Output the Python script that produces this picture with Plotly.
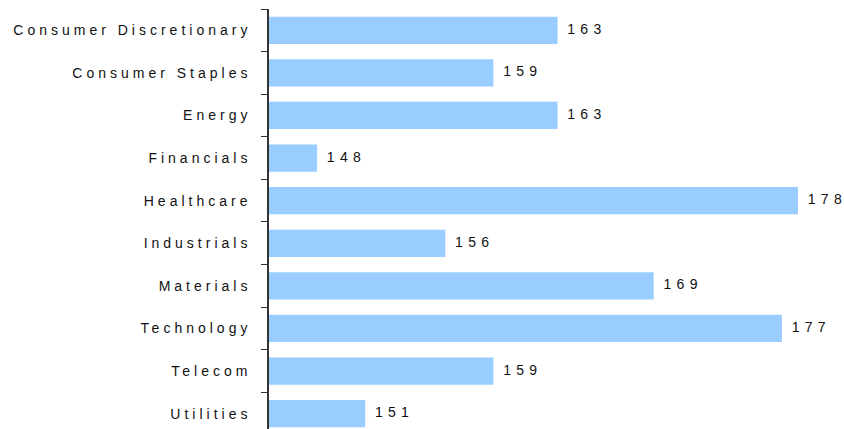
import plotly.graph_objects as go

# Sector values
sectors = [
    "Consumer Discretionary", "Consumer Staples", "Energy", "Financials",
    "Healthcare", "Industrials", "Materials", "Technology", "Telecom", "Utilities",
]
values = [163, 159, 163, 148, 178, 156, 169, 177, 159, 151]

BAR_COLOR = "#99CCFF"
TEXT_COLOR = "#111111"
FONT = "Liberation Sans, Arial, sans-serif"

fig = go.Figure()

fig.add_trace(go.Bar(
    x=values,
    y=sectors,
    orientation="h",
    marker=dict(color=BAR_COLOR, line=dict(width=0)),
    hoverinfo="skip",
))

# Value labels to the right of each bar (invisible marker sets the gap)
fig.add_trace(go.Scatter(
    x=values,
    y=sectors,
    mode="markers+text",
    marker=dict(size=14, opacity=0),
    text=[str(v) for v in values],
    textposition="middle right",
    textfont=dict(family=FONT, size=14, color=TEXT_COLOR),
    cliponaxis=False,
    hoverinfo="skip",
))

fig.update_layout(
    width=844,
    height=429,
    margin=dict(l=269, r=14, t=9, b=0),
    paper_bgcolor="white",
    plot_bgcolor="white",
    showlegend=False,
    bargap=0.36,
    font=dict(family=FONT, size=14, color=TEXT_COLOR),
)

fig.update_xaxes(
    range=[145, 180],
    visible=False,
    showgrid=False,
    zeroline=False,
)

fig.update_yaxes(
    type="category",
    categoryorder="array",
    categoryarray=sectors,
    range=[9.36, -0.5],
    tickson="boundaries",
    ticks="outside",
    ticklen=6,
    tickwidth=1,
    tickcolor="#333333",
    showline=True,
    linecolor="#333333",
    linewidth=1.5,
    showgrid=False,
    zeroline=False,
    ticklabelstandoff=13,
    tickfont=dict(family=FONT, size=14, color=TEXT_COLOR),
)

# Widen the letter spacing of the axis labels; for the value labels the
# spacing goes between digits only, so nothing trails past the last digit
post = """
var s = document.createElement('style');
s.textContent = '.ytick text { letter-spacing: 4px; }';
document.head.appendChild(s);
var ns = 'http://www.w3.org/2000/svg';
document.querySelectorAll('.textpoint text').forEach(function (t) {
  var str = t.textContent;
  if (str.length < 2) return;
  t.textContent = '';
  var head = document.createElementNS(ns, 'tspan');
  head.textContent = str.slice(0, -1);
  head.setAttribute('style', 'letter-spacing: 5.3px');
  var tail = document.createElementNS(ns, 'tspan');
  tail.textContent = str.slice(-1);
  t.appendChild(head);
  t.appendChild(tail);
});
"""

fig.write_html("out.html", post_script=post)
